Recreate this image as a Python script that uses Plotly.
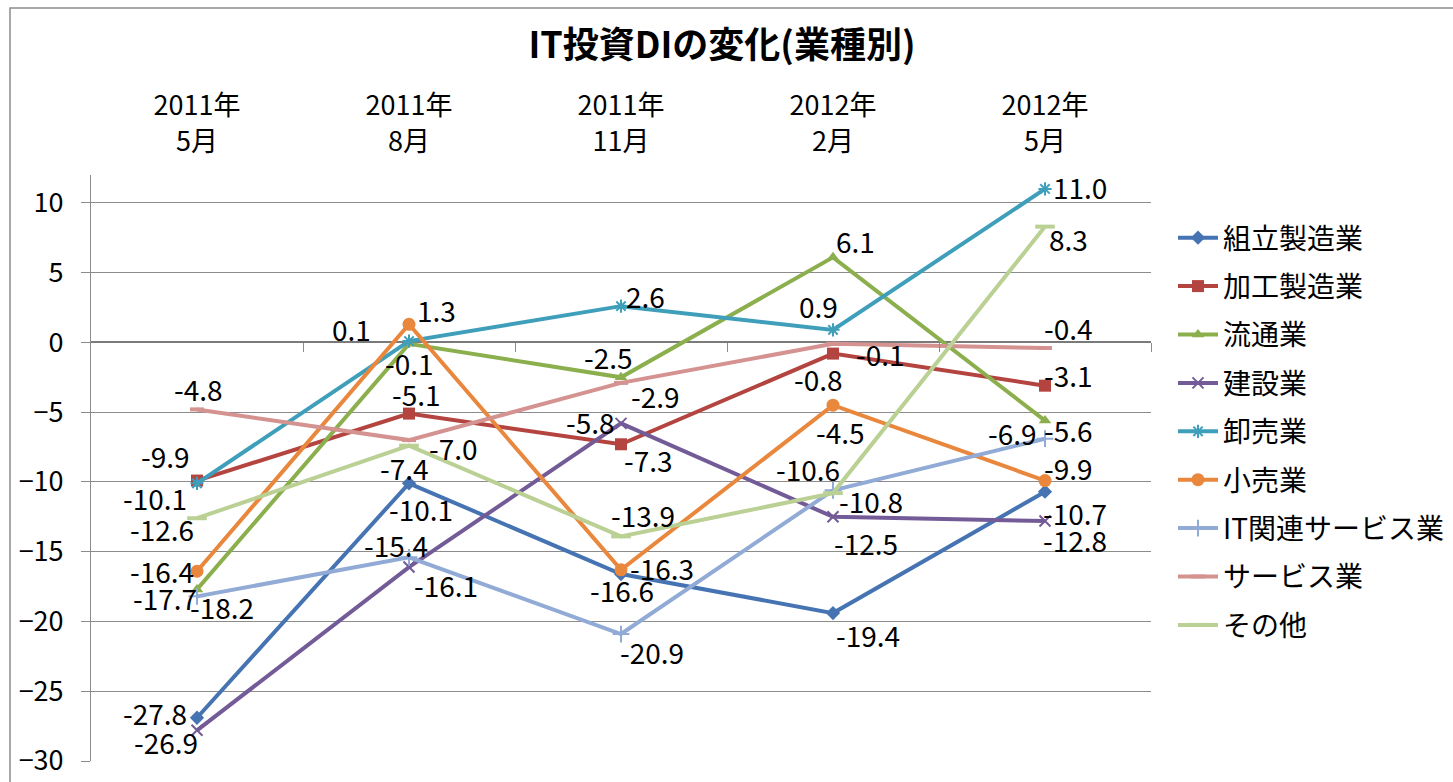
import plotly.graph_objects as go

categories = ["2011年5月", "2011年8月", "2011年11月", "2012年2月", "2012年5月"]
tick_labels = ["2011年<br>5月", "2011年<br>8月", "2011年<br>11月", "2012年<br>2月", "2012年<br>5月"]

series_names = ["組立製造業", "加工製造業", "流通業", "建設業", "卸売業",
                "小売業", "IT関連サービス業", "サービス業", "その他"]

assembly_mfg = [-26.9, -10.1, -16.6, -19.4, -10.7]
process_mfg = [-9.9, -5.1, -7.3, -0.8, -3.1]
distribution = [-17.7, -0.1, -2.5, 6.1, -5.6]
construction = [-27.8, -16.1, -5.8, -12.5, -12.8]
wholesale = [-10.1, 0.1, 2.6, 0.9, 11.0]
retail = [-16.4, 1.3, -16.3, -4.5, -9.9]
it_services = [-18.2, -15.4, -20.9, -10.6, -6.9]
services = [-4.8, -7.0, -2.9, -0.1, -0.4]
others = [-12.6, -7.4, -13.9, -10.8, 8.3]

values = [assembly_mfg, process_mfg, distribution, construction, wholesale,
          retail, it_services, services, others]

# styles
colors = ["#4674B3", "#B3443F", "#8CAF4E", "#735B97", "#3F9FBA",
          "#E9873D", "#91ABD6", "#D49391", "#BAD094"]
symbols = ["diamond", "square", "triangle-up", "x-thin", "asterisk",
           "circle", "cross-thin", "line-ew", "line-ew"]
msizes = [11, 12, 11, 11, 11, 13, 12, 10, 14]

# data-label offsets in screen pixels (dx right, dy down)
label_offsets = [
    [(-31, 24), (12, 26), (1, 16), (35, 22), (30, 21)],
    [(-32, -25), (7, -20), (27, 16), (-15, 25), (23, -11)],
    [(-32, 9), (0, 19), (-13, -20), (22, -16), (23, 9)],
    [(-42, -17), (37, 18), (-31, -1), (33, 26), (30, 19)],
    [(-42, 15), (-58, -12), (24, -10), (-15, -24), (35, -2)],
    [(-35, 0), (27, -14), (41, -2), (7, 27), (23, -13)],
    [(25, 11), (-13, -12), (31, 18), (-25, -21), (-33, -6)],
    [(1, -20), (44, 8), (34, 13), (47, 10), (23, -20)],
    [(-35, 11), (-5, 22), (22, -21), (38, 8), (23, 12)],
]

FONT = "Noto Sans CJK JP"
GRID = "#8C8C8C"

fig = go.Figure()
annotations = []
for i, (name, vals) in enumerate(zip(series_names, values)):
    sym = symbols[i]
    thin = sym in ("x-thin", "asterisk", "cross-thin", "line-ew")
    marker = dict(symbol=sym, size=msizes[i], color=colors[i],
                  line=dict(color=colors[i], width=2 if thin else 0))
    if sym == "line-ew":
        marker["line"]["width"] = 4
    fig.add_trace(go.Scatter(
        x=categories, y=vals, mode="lines+markers", name=name,
        legendgroup=name,
        line=dict(color=colors[i], width=4),
        marker=marker,
    ))
    for j, v in enumerate(vals):
        dx, dy = label_offsets[i][j]
        annotations.append(dict(
            x=categories[j], y=v, xref="x", yref="y", text=f"{v:.1f}",
            showarrow=False, xshift=dx, yshift=-dy,
            xanchor="center", yanchor="middle",
            font=dict(family=FONT, size=28, color="black"),
        ))

# helper axis for the tick marks on the zero line
fig.add_trace(go.Scatter(x=[None], y=[None], xaxis="x2", showlegend=False,
                         hoverinfo="skip"))

L, R, T, B = 91, 302, 175, 21
W, H = 1453, 782
pw, ph = W - L - R, H - T - B

fig.update_layout(
    width=W, height=H,
    margin=dict(l=L, r=R, t=T, b=B, autoexpand=False),
    paper_bgcolor="white", plot_bgcolor="white",
    font=dict(family=FONT, size=27, color="black"),
    title=dict(text="<b>IT投資DIの変化(業種別)</b>", x=722 / W, xref="container",
               xanchor="center", y=1 - 45 / H, yanchor="middle",
               font=dict(family=FONT, size=36, color="black")),
    xaxis=dict(type="category", categoryorder="array", categoryarray=categories,
               tickvals=categories, ticktext=tick_labels, side="top",
               range=[-0.5, 4.5], showgrid=False, showline=False, zeroline=False,
               ticks="", ticklabelstandoff=18, automargin=False,
               tickfont=dict(family=FONT, size=27, color="black")),
    xaxis2=dict(overlaying="x", anchor="free", position=30 / 42, range=[-0.5, 4.5],
                tickvals=[0.5, 1.5, 2.5, 3.5, 4.5], showticklabels=False,
                ticks="outside", ticklen=9, tickcolor=GRID, tickwidth=1,
                showgrid=False, showline=False, zeroline=False, side="bottom",
                automargin=False),
    yaxis=dict(range=[-30, 12], tick0=0, dtick=5, showgrid=True, gridcolor=GRID,
               gridwidth=1, zeroline=True, zerolinecolor="#7A7A7A", zerolinewidth=1.5,
               showline=True, linecolor=GRID, linewidth=1, automargin=False,
               ticks="outside", ticklen=9, tickcolor=GRID, ticklabelstandoff=12,
               tickfont=dict(family=FONT, size=27, color="black")),
    legend=dict(x=(1173 - L) / pw, xanchor="left", y=(H - B - 213) / ph, yanchor="top",
                traceorder="grouped", tracegroupgap=9,
                font=dict(family=FONT, size=28, color="black"),
                bgcolor="rgba(0,0,0,0)", itemwidth=40),
    annotations=annotations,
    shapes=[dict(type="rect", xref="paper", yref="paper",
                 x0=(10 - L) / pw, x1=2.0, y0=-1.0, y1=(H - B - 8) / ph,
                 line=dict(color="#8C8C8C", width=1.5), layer="below")],
    showlegend=True,
)

fig.write_html("out.html")
